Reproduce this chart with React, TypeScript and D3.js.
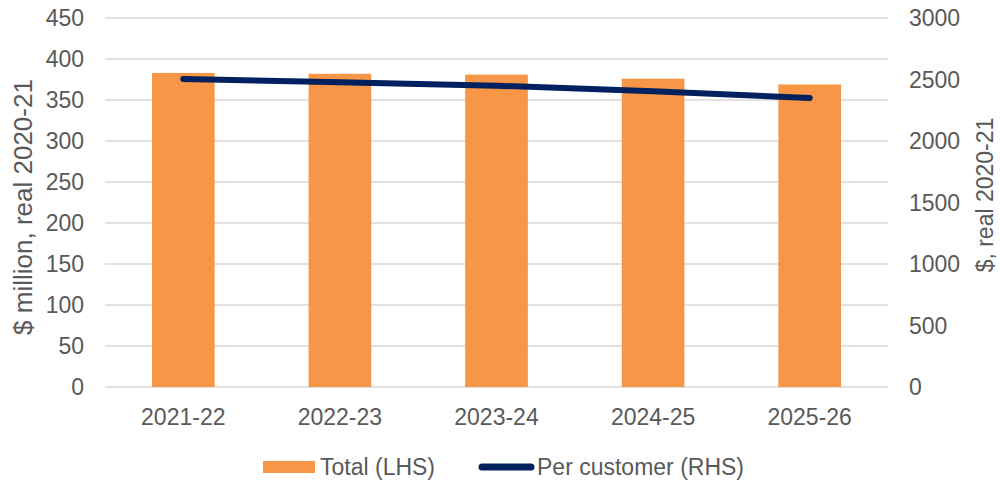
import React from "react";
import * as d3 from "d3";

const categories = ["2021-22", "2022-23", "2023-24", "2024-25", "2025-26"];
const totalLHS = [383, 382, 381, 376, 369];
const perCustomerRHS = [2505, 2478, 2450, 2405, 2350];
const leftTicks = [0, 50, 100, 150, 200, 250, 300, 350, 400, 450];
const rightTicks = [0, 500, 1000, 1500, 2000, 2500, 3000];

const W = 1000;
const H = 482;
const plotLeft = 105;
const plotRight = 888;
const plotTop = 18;
const plotBottom = 387;
const textColor = "#595959";
const font = "'Liberation Sans', Arial, sans-serif";

export default function App() {
  const x = d3
    .scaleBand<string>()
    .domain(categories)
    .range([plotLeft, plotRight])
    .paddingInner(0.6)
    .paddingOuter(0.3);
  const yL = d3.scaleLinear().domain([0, 450]).range([plotBottom, plotTop]);
  const yR = d3.scaleLinear().domain([0, 3000]).range([plotBottom, plotTop]);
  const line = d3
    .line<number>()
    .x((_, i) => (x(categories[i]) as number) + x.bandwidth() / 2)
    .y((d) => yR(d));

  return (
    <svg
      width={W}
      height={H}
      style={{ position: "absolute", left: 0, top: 0, background: "#fff" }}
      fontFamily={font}
    >
      {leftTicks.map((t) => (
        <line
          key={"g" + t}
          x1={plotLeft}
          x2={plotRight}
          y1={yL(t)}
          y2={yL(t)}
          stroke="#D9D9D9"
          strokeWidth={1.5}
        />
      ))}
      {categories.map((c, i) => (
        <rect
          key={c}
          x={x(c)}
          y={yL(totalLHS[i])}
          width={x.bandwidth()}
          height={plotBottom - yL(totalLHS[i])}
          fill="#F79646"
        />
      ))}
      <path
        d={line(perCustomerRHS) || ""}
        fill="none"
        stroke="#002060"
        strokeWidth={6}
        strokeLinecap="round"
        strokeLinejoin="round"
      />
      {leftTicks.map((t) => (
        <text
          key={"l" + t}
          x={84}
          y={yL(t)}
          dy="0.36em"
          textAnchor="end"
          fontSize={23}
          fill={textColor}
        >
          {t}
        </text>
      ))}
      {rightTicks.map((t) => (
        <text
          key={"r" + t}
          x={909}
          y={yR(t)}
          dy="0.36em"
          textAnchor="start"
          fontSize={23}
          fill={textColor}
        >
          {t}
        </text>
      ))}
      {categories.map((c) => (
        <text
          key={"x" + c}
          x={(x(c) as number) + x.bandwidth() / 2}
          y={425}
          textAnchor="middle"
          fontSize={23}
          fill={textColor}
        >
          {c}
        </text>
      ))}
      <text
        transform="translate(32,207) rotate(-90)"
        textAnchor="middle"
        fontSize={26}
        fill={textColor}
      >
        $ million, real 2020-21
      </text>
      <text
        transform="translate(993,195) rotate(-90)"
        textAnchor="middle"
        fontSize={23}
        fill={textColor}
      >
        $, real 2020-21
      </text>
      <rect x={263} y={461} width={52} height={12} fill="#F79646" />
      <text x={320} y={475} fontSize={23} fill={textColor}>
        Total (LHS)
      </text>
      <line
        x1={482}
        x2={531}
        y1={467}
        y2={467}
        stroke="#002060"
        strokeWidth={7}
        strokeLinecap="round"
      />
      <text x={537} y={475} fontSize={23} fill={textColor}>
        Per customer (RHS)
      </text>
    </svg>
  );
}
